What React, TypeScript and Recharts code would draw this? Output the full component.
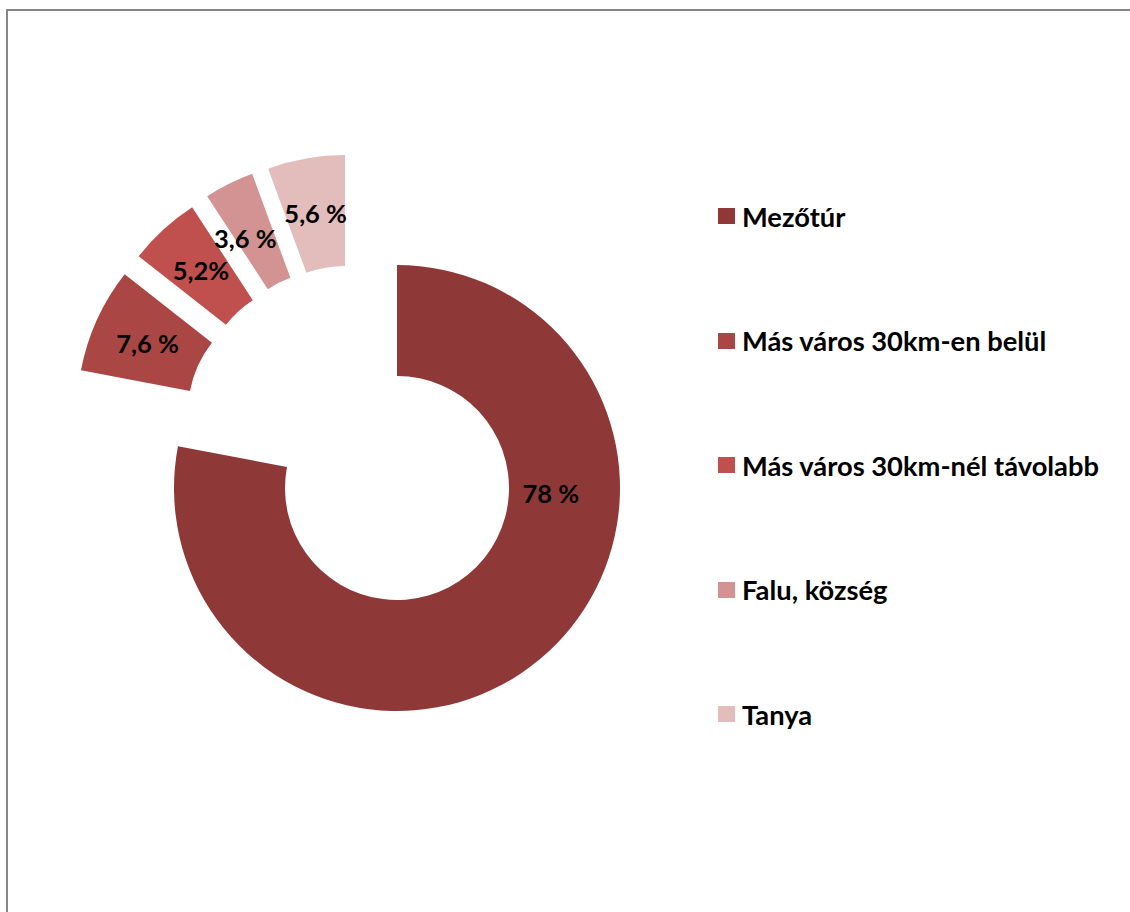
import { PieChart, Pie, Cell, Legend } from "recharts"

const categories = [
  "Mezőtúr",
  "Más város 30km-en belül",
  "Más város 30km-nél távolabb",
  "Falu, község",
  "Tanya"
]
const shares = [78, 7.6, 5.2, 3.6, 5.6]
const valueLabels = ["78 %", "7,6 %", "5,2%", "3,6 %", "5,6 %"]

const colors = ["#8E3937", "#AA4744", "#C0504D", "#D39392", "#E3BCBC"]

// layout: pixel shift of the pulled-out slices, hand fitted
const explode: ([number, number] | null)[] = [
  null,
  [-97, -76],
  [-83, -94],
  [-68, -105],
  [-52, -110]
]
// label angle overrides (degrees) where the label is not on the bisector
const labelAngle: (number | null)[] = [-2, null, null, 120, null]
const labelRadius: (number | null)[] = [154, null, null, null, null]

const data = categories.map((name, i) => ({ name, value: shares[i] }))

const CX = 397
const CY = 488
const INNER = 112
const OUTER = 223
const FONT = "Lato, 'Open Sans', sans-serif"

const RAD = Math.PI / 180

function makeLabel(only: number) {
  return (props: any) => {
    const { cx, cy, midAngle, innerRadius, outerRadius, index } = props
    if (index !== only) return null
    const a = labelAngle[index] ?? midAngle
    const r = labelRadius[index] ?? (innerRadius + outerRadius) / 2
    const x = cx + r * Math.cos(-a * RAD)
    const y = cy + r * Math.sin(-a * RAD)
    return (
      <text
        x={x}
        y={y}
        textAnchor="middle"
        dominantBaseline="central"
        fill="#000"
        fontFamily={FONT}
        fontWeight={700}
        fontSize={25.5}
      >
        {valueLabels[index]}
      </text>
    )
  }
}

function LegendBox() {
  return (
    <div>
      {categories.map((c, i) => (
        <div
          key={c}
          style={{ height: 124.5, display: "flex", alignItems: "center" }}
        >
          <span
            style={{
              width: 17,
              height: 16,
              background: colors[i],
              display: "inline-block",
              marginRight: 7
            }}
          />
          <span
            style={{
              fontFamily: FONT,
              fontWeight: 700,
              fontSize: 27.3,
              color: "#000",
              whiteSpace: "nowrap"
            }}
          >
            {c}
          </span>
        </div>
      ))}
    </div>
  )
}

export default function App() {
  return (
    <div
      style={{
        position: "absolute",
        left: 0,
        top: 0,
        width: 1130,
        height: 912,
        overflow: "hidden",
        background: "#fff"
      }}
    >
      <div
        style={{
          position: "absolute",
          left: 6,
          top: 9,
          width: 1200,
          height: 1000,
          borderLeft: "2px solid #878787",
          borderTop: "2px solid #878787"
        }}
      />
      <PieChart
        width={1130}
        height={912}
        margin={{ top: 0, right: 0, bottom: 0, left: 0 }}
        style={{ position: "absolute", left: 0, top: 0 }}
      >
        <Pie
          data={data}
          dataKey="value"
          nameKey="name"
          cx={CX}
          cy={CY}
          innerRadius={INNER}
          outerRadius={OUTER}
          startAngle={90}
          endAngle={-270}
          stroke="none"
          labelLine={false}
          label={makeLabel(0)}
          isAnimationActive={false}
        >
          {data.map((d, i) => (
            <Cell key={d.name} fill={i === 0 ? colors[0] : "transparent"} />
          ))}
        </Pie>
        {explode.map((off, k) =>
          off ? (
            <Pie
              key={"ex" + k}
              data={data}
              dataKey="value"
              nameKey="name"
              cx={CX + off[0]}
              cy={CY + off[1]}
              innerRadius={INNER}
              outerRadius={OUTER}
              startAngle={90}
              endAngle={-270}
              stroke="none"
              labelLine={false}
              label={makeLabel(k)}
              legendType="none"
              isAnimationActive={false}
            >
              {data.map((d, i) => (
                <Cell key={d.name} fill={i === k ? colors[k] : "transparent"} />
              ))}
            </Pie>
          ) : null
        )}
        <Legend
          layout="vertical"
          align="right"
          verticalAlign="top"
          content={<LegendBox />}
          wrapperStyle={{ left: 718, top: 153.75, width: 412, right: "auto" }}
        />
      </PieChart>
    </div>
  )
}
